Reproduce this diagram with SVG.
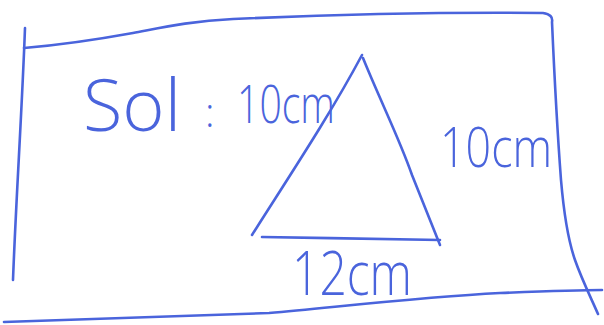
<svg xmlns="http://www.w3.org/2000/svg" width="604" height="325" viewBox="0 0 604 325">
<style>
.ink{fill:none;stroke:#4a64dc;stroke-width:2.6;stroke-linecap:round;stroke-linejoin:round}
.t{fill:#4a64dc;font-family:"Open Sans","Lato","Liberation Sans",sans-serif;font-weight:300}
</style>
<rect width="604" height="325" fill="#ffffff"/>
<g id="frame">
<path class="ink" d="M25,28 C22,110 16,200 13,280"/>
<path class="ink" d="M24,48 C60,45 100,39 133,33 C160,28 190,21 233,19 C300,16 430,12 543,13 C550,14 553,17 552,22 C555,90 558,140 561,180 C564,215 568,240 575,260 C582,280 592,300 598,314"/>
<path class="ink" d="M4,322 C115,319 200,316 269,313 C346,306 423,297 500,293 C550,291 580,290 602,290"/>
</g>
<g id="triangle">
<path class="ink" d="M362,55 C330,115 290,175 252,235"/>
<path class="ink" d="M262,237 C320,238 390,239 440,240"/>
<path class="ink" d="M363,58 C380,100 400,140 412,175 C424,205 432,225 440,245"/>
</g>
<g id="labels">
<text class="t" x="83" y="131" font-size="72" textLength="98" lengthAdjust="spacingAndGlyphs">Sol</text>
<text class="t" x="205" y="127" font-size="40">:</text>
<text class="t" x="237" y="123" font-size="54" textLength="98" lengthAdjust="spacingAndGlyphs">10cm</text>
<text class="t" x="440" y="167" font-size="56" textLength="112" lengthAdjust="spacingAndGlyphs">10cm</text>
<text class="t" x="292" y="295" font-size="60" textLength="120" lengthAdjust="spacingAndGlyphs">12cm</text>
</g>
</svg>
